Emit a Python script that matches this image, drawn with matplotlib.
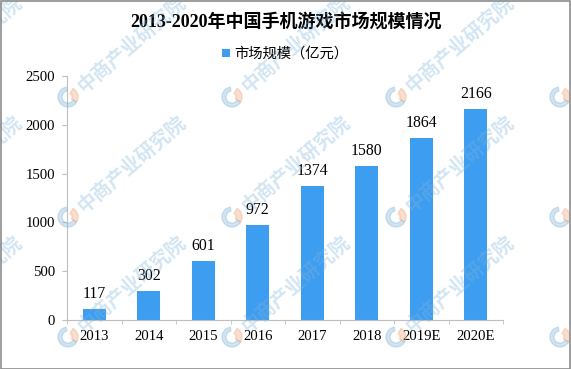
import matplotlib.pyplot as plt
from matplotlib.patches import Wedge
import numpy as np

years = ["2013", "2014", "2015", "2016", "2017", "2018", "2019E", "2020E"]
market_size = [117, 302, 601, 972, 1374, 1580, 1864, 2166]
y_ticks = [0, 500, 1000, 1500, 2000, 2500]

bar_color = "#3d9df0"
axis_color = "#bfbfbf"
num_font = ["Liberation Serif", "Noto Sans CJK SC"]
cjk_font = ["Noto Sans CJK SC", "DejaVu Sans"]
W, H = 571, 369

fig = plt.figure(figsize=(W / 100, H / 100), dpi=100)
ax = fig.add_axes([67 / W, 1 - 320 / H, 436 / W, 244 / H])

x = np.arange(len(years))
ax.bar(x, market_size, width=0.42, color=bar_color, label="市场规模（亿元）")
for xi, v in zip(x, market_size):
    ax.annotate(str(v), (xi, v), xytext=(0, 5), textcoords="offset points",
                ha="center", va="bottom", fontsize=11.3, family=num_font)

ax.set_xlim(-0.5, len(years) - 0.5)
ax.set_ylim(0, 2500)
ax.set_yticks(y_ticks)
ax.set_yticklabels([str(t) for t in y_ticks], family=num_font, fontsize=10.6)
ax.set_xticks(x)
ax.set_xticklabels(years, family=num_font, fontsize=10.6)
ax.set_xticks(np.arange(len(years) + 1) - 0.5, minor=True)
ax.tick_params(axis="x", which="major", length=0, pad=7)
ax.tick_params(axis="x", which="minor", length=3, color=axis_color)
ax.tick_params(axis="y", length=3.6, color=axis_color, pad=5)

for s in ["top", "right"]:
    ax.spines[s].set_visible(False)
for s in ["left", "bottom"]:
    ax.spines[s].set_color(axis_color)

fig.text(286 / W, 1 - 23 / H, "2013-2020年中国手机游戏市场规模情况", ha="center",
         va="center", fontsize=13, fontweight="bold",
         family=["Liberation Serif", "Noto Sans CJK SC"])
handles, labels = ax.get_legend_handles_labels()
fig.legend(handles, labels, loc="center", bbox_to_anchor=(285 / W, 1 - 54 / H),
           frameon=False, prop={"family": cjk_font, "size": 10.3},
           handlelength=0.55, handleheight=0.55, handletextpad=0.3)

# watermark: logo + 中商产业研究院, tiled
wm = "#7fb4dc"
for j in range(-1, 3):
    for k in range(-1, 4):
        lx, ly = 68 + 164 * k, 97 + 120 * j
        fx, fy = lx / W, 1 - ly / H
        r = 10 / W
        fig.patches.append(Wedge((lx, H - ly), 10, 100, 330, width=4,
                                 transform=None, color=wm, alpha=0.35, zorder=5))
        fig.patches.append(Wedge((lx, H - ly), 10, 330, 60, width=6,
                                 transform=None, color="#f0a27a", alpha=0.35, zorder=5))
        fig.text((lx + 12) / W, 1 - (ly - 8) / H, "中商产业研究院", rotation=41,
                 rotation_mode="anchor", ha="left", va="center", fontsize=14,
                 fontweight="bold", family=cjk_font, color=wm, alpha=0.35, zorder=5)

fig.patches.append(plt.Rectangle((0.001, 0.001), 0.997, 0.997, transform=fig.transFigure,
                                 fill=False, edgecolor="#8c8c8c", linewidth=1.2, zorder=6))

fig.savefig("out.png", dpi=100)
